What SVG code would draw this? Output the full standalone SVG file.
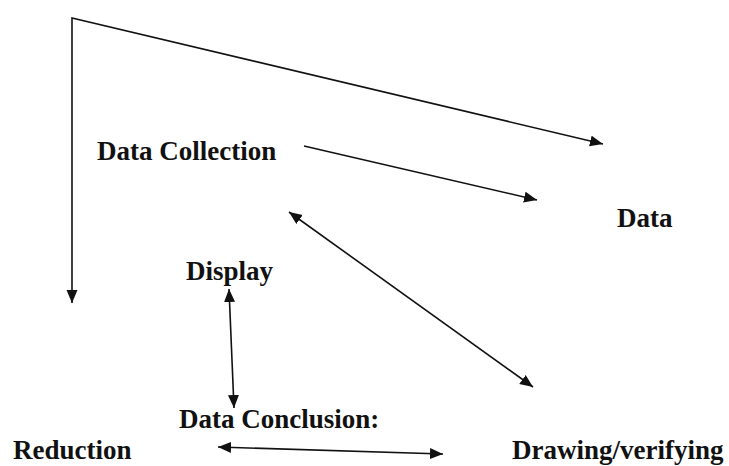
<svg xmlns="http://www.w3.org/2000/svg" width="729" height="466" viewBox="0 0 729 466">
  <style>
    .lbl { font-family: "Liberation Serif", "Times New Roman", serif; font-weight: bold; font-size: 27px; fill: #111; }
    .con { fill: none; stroke: #111; stroke-width: 1.6; }
  </style>
  <defs>
    <marker id="head" markerUnits="userSpaceOnUse" markerWidth="14" markerHeight="12" refX="13" refY="5.5" orient="auto-start-reverse">
      <path d="M0,0 L13,5.5 L0,11 Z" fill="#111"/>
    </marker>
  </defs>
  <rect width="729" height="466" fill="#fff"/>

  <g id="connectors">
    <path class="con" d="M72,303 L72,18 L603,144" marker-start="url(#head)" marker-end="url(#head)"/>
    <path class="con" d="M304,146 L537,200" marker-end="url(#head)"/>
    <path class="con" d="M289,212 L533,387" marker-start="url(#head)" marker-end="url(#head)"/>
    <path class="con" d="M229,289 L234,408" marker-start="url(#head)" marker-end="url(#head)"/>
    <path class="con" d="M218,447 L443,454" marker-start="url(#head)" marker-end="url(#head)"/>
  </g>

  <g id="data-collection"><text class="lbl" x="97" y="160">Data Collection</text></g>
  <g id="data"><text class="lbl" x="617" y="227">Data</text></g>
  <g id="display"><text class="lbl" x="186" y="280">Display</text></g>
  <g id="data-conclusion"><text class="lbl" x="179" y="428">Data Conclusion:</text></g>
  <g id="reduction"><text class="lbl" x="13" y="459">Reduction</text></g>
  <g id="drawing-verifying"><text class="lbl" x="512" y="459">Drawing/verifying</text></g>
</svg>
